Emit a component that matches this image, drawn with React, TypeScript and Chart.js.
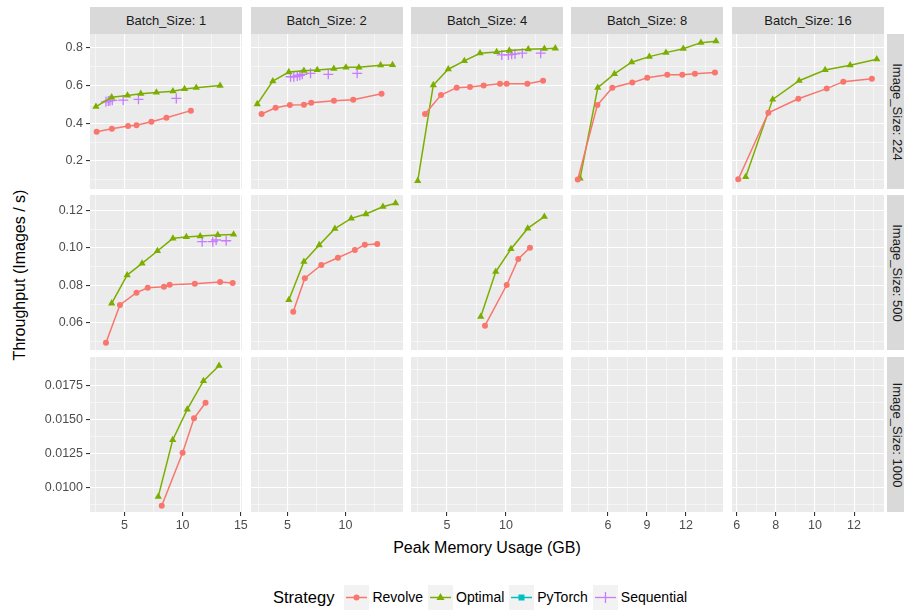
import { useEffect, useRef } from "react";
import { Chart, registerables } from "chart.js";

Chart.register(...registerables);
Chart.defaults.font.family = "'Liberation Sans', Arial, sans-serif";

const batchSizes = ["1", "2", "4", "8", "16"];
const imageSizes = ["224", "500", "1000"];
const strategies = ["Revolve", "Optimal", "PyTorch", "Sequential"];

// [memory GB, throughput] per batch size column
const revolve224 = [
  [[2.62, 0.355], [3.93, 0.371], [5.32, 0.385], [6.04, 0.39], [7.32, 0.408], [8.61, 0.429], [10.71, 0.467]],
  [[2.76, 0.449], [3.97, 0.482], [5.2, 0.497], [6.41, 0.498], [7.04, 0.509], [9.0, 0.52], [10.66, 0.525], [13.1, 0.557]],
  [[3.14, 0.449], [4.49, 0.55], [5.82, 0.589], [6.95, 0.593], [8.11, 0.6], [9.49, 0.61], [10.06, 0.61], [11.81, 0.61], [13.14, 0.626]],
  [[3.67, 0.102], [5.18, 0.497], [6.33, 0.589], [7.87, 0.616], [9.02, 0.642], [10.56, 0.658], [11.72, 0.658], [12.69, 0.663], [14.23, 0.669]],
  [[6.08, 0.103], [7.62, 0.456], [9.15, 0.53], [10.6, 0.584], [11.45, 0.621], [12.91, 0.637]],
];
const optimal224 = [
  [[2.56, 0.488], [3.91, 0.538], [5.27, 0.548], [6.41, 0.557], [7.75, 0.564], [9.17, 0.57], [10.17, 0.582], [11.17, 0.589], [13.22, 0.6]],
  [[2.39, 0.502], [3.73, 0.624], [5.11, 0.672], [6.41, 0.679], [7.56, 0.683], [8.99, 0.69], [10.03, 0.697], [11.15, 0.697], [13.02, 0.708], [14.05, 0.71]],
  [[2.52, 0.094], [3.84, 0.603], [5.11, 0.687], [6.47, 0.731], [7.8, 0.772], [9.21, 0.779], [10.28, 0.786], [11.89, 0.793], [13.25, 0.796], [14.18, 0.798]],
  [[3.85, 0.107], [5.21, 0.589], [6.49, 0.662], [7.82, 0.724], [9.18, 0.754], [10.46, 0.775], [11.79, 0.796], [13.15, 0.828], [14.31, 0.836]],
  [[6.46, 0.115], [7.84, 0.527], [9.19, 0.626], [10.52, 0.683], [11.8, 0.708], [13.16, 0.74]],
];
const sequential224 = [
  [[3.42, 0.514], [3.62, 0.518], [3.76, 0.52], [3.96, 0.522], [4.9, 0.523], [6.21, 0.527], [9.46, 0.532]],
  [[5.26, 0.647], [5.54, 0.647], [5.84, 0.651], [6.06, 0.655], [6.27, 0.66], [6.98, 0.665], [8.51, 0.66], [11.0, 0.665]],
  [[9.64, 0.763], [10.2, 0.763], [10.48, 0.766], [10.76, 0.768], [11.38, 0.772], [12.94, 0.772]],
  [],
  [],
];
const revolve500 = [
  [[3.42, 0.0493], [4.62, 0.0695], [6.04, 0.0761], [7.01, 0.0787], [8.4, 0.0793], [8.89, 0.0803], [11.05, 0.0809], [13.22, 0.0818], [14.3, 0.0813]],
  [[5.49, 0.0659], [6.49, 0.0838], [7.91, 0.0909], [9.34, 0.0948], [10.8, 0.0989], [11.66, 0.1018], [12.73, 0.1022]],
  [[8.22, 0.0584], [10.06, 0.0802], [11.04, 0.0941], [12.03, 0.1002]],
  [],
  [],
];
const optimal500 = [
  [[3.91, 0.0704], [5.24, 0.0855], [6.52, 0.0918], [7.84, 0.0984], [9.17, 0.1052], [10.32, 0.1059], [11.51, 0.1064], [13.02, 0.107], [14.38, 0.1073]],
  [[5.11, 0.0722], [6.41, 0.0927], [7.73, 0.1016], [9.08, 0.1104], [10.49, 0.1159], [11.75, 0.1182], [13.22, 0.1221], [14.31, 0.124]],
  [[7.86, 0.0632], [9.13, 0.0873], [10.42, 0.0995], [11.84, 0.1105], [13.25, 0.1168]],
  [],
  [],
];
const sequential500 = [
  [[11.68, 0.1034], [12.59, 0.1034], [12.88, 0.1043], [13.74, 0.1039]],
  [], [], [], [],
];
const revolve1000 = [
  [[8.21, 0.00867], [10.0, 0.01258], [10.98, 0.01512], [11.97, 0.01627]],
  [], [], [], [],
];
const optimal1000 = [
  [[7.91, 0.00934], [9.15, 0.01352], [10.4, 0.01578], [11.79, 0.01787], [13.13, 0.019]],
  [], [], [], [],
];
const pytorchAll: number[][][] = [[], [], [], [], []];

const rowSeries = [
  [revolve224, optimal224, pytorchAll, sequential224],
  [revolve500, optimal500, pytorchAll, sequential500],
  [revolve1000, optimal1000, pytorchAll, [[], [], [], [], []]],
];

const xRanges = [[2.05, 15.1], [1.85, 14.95], [1.95, 14.83], [3.15, 14.85], [5.76, 13.53]];
const xMajor = [5, 5, 5, 3, 2];
const yRanges = [[0.051, 0.874], [0.0454, 0.1284], [0.00821, 0.01964]];
const yMajor = [0.2, 0.02, 0.0025];
const yDecimals = [1, 2, 4];

const colors = ["#F8766D", "#7CAE00", "#00BFC4", "#C77CFF"];
const pointStyles = ["circle", "triangle", "rect", "cross"];
const pointRadius = [3, 4.2, 3, 5];

const colLeft = [90, 250.5, 411, 571, 732];
const rowTop = [34, 195, 357];
const PW = 152;
const PH = 155;
const AXW = 60;
const AXH = 22;
const PADR = 7;

const isMajor = (v: number, step: number) =>
  Math.abs(v / step - Math.round(v / step)) < 1e-6;

const panelBg = {
  id: "panelBg",
  beforeDraw(chart: Chart) {
    const { ctx, chartArea } = chart;
    ctx.save();
    ctx.fillStyle = "#EBEBEB";
    ctx.fillRect(chartArea.left, chartArea.top, chartArea.right - chartArea.left, chartArea.bottom - chartArea.top);
    ctx.restore();
  },
};

function Panel({ row, col }: { row: number; col: number }) {
  const ref = useRef<HTMLCanvasElement>(null);
  const showY = col === 0;
  const showX = row === 2;
  const padR = showX ? PADR : 0;
  const w = PW + (showY ? AXW : 0) + padR;
  const h = PH + (showX ? AXH : 0);

  useEffect(() => {
    if (!ref.current) return;
    const series = rowSeries[row];
    const xm = xMajor[col];
    const ym = yMajor[row];
    const chart = new Chart(ref.current, {
      type: "scatter",
      data: {
        datasets: series.map((s, i) => ({
          label: strategies[i],
          data: s[col].map(([x, y]) => ({ x, y })),
          showLine: i !== 3,
          borderColor: colors[i],
          backgroundColor: colors[i],
          borderWidth: i === 3 ? 1.3 : 1.5,
          pointStyle: pointStyles[i],
          pointRadius: pointRadius[i],
          pointBorderWidth: i === 3 ? 1.3 : 0,
          pointBorderColor: colors[i],
        })),
      },
      options: {
        animation: false,
        responsive: false,
        layout: { padding: { left: 0, top: 0, bottom: 0, right: padR }, autoPadding: false },
        plugins: { legend: { display: false }, tooltip: { enabled: false } },
        scales: {
          x: {
            type: "linear",
            min: xRanges[col][0],
            max: xRanges[col][1],
            border: { display: false },
            afterFit: (s: any) => { s.height = showX ? AXH : 0; s.paddingLeft = 0; s.paddingRight = 0; },
            grid: {
              color: "#FFFFFF",
              lineWidth: (c: any) => (isMajor(c.tick.value, xm) ? 1.1 : 0.5),
              drawTicks: showX,
              tickLength: 4,
              tickColor: (c: any) => (isMajor(c.tick.value, xm) ? "#333333" : "rgba(0,0,0,0)"),
            },
            ticks: {
              display: showX,
              stepSize: xm / 2,
              includeBounds: false,
              autoSkip: false,
              maxRotation: 0,
              padding: 2,
              color: "#4D4D4D",
              font: { size: 12.5 },
              callback: (v: any) => (isMajor(Number(v), xm) ? String(Math.round(Number(v))) : ""),
            },
          },
          y: {
            type: "linear",
            min: yRanges[row][0],
            max: yRanges[row][1],
            border: { display: false },
            afterFit: (s: any) => { s.width = showY ? AXW : 0; s.paddingTop = 0; s.paddingBottom = 0; },
            grid: {
              color: "#FFFFFF",
              lineWidth: (c: any) => (isMajor(c.tick.value, ym) ? 1.1 : 0.5),
              drawTicks: showY,
              tickLength: 4,
              tickColor: (c: any) => (isMajor(c.tick.value, ym) ? "#333333" : "rgba(0,0,0,0)"),
            },
            ticks: {
              display: showY,
              stepSize: ym / 2,
              includeBounds: false,
              autoSkip: false,
              padding: 3,
              color: "#4D4D4D",
              font: { size: 12.5 },
              callback: (v: any) => (isMajor(Number(v), ym) ? Number(v).toFixed(yDecimals[row]) : ""),
            },
          },
        },
      },
      plugins: [panelBg],
    } as any);
    return () => chart.destroy();
  }, [row, col, showX, showY, padR]);

  return (
    <canvas
      ref={ref}
      width={w}
      height={h}
      style={{
        position: "absolute",
        left: colLeft[col] - (showY ? AXW : 0),
        top: rowTop[row],
        width: w,
        height: h,
      }}
    />
  );
}

function LegendKey({ i }: { i: number }) {
  const c = colors[i];
  return (
    <svg width={25} height={25} style={{ display: "block" }}>
      <rect x={0} y={0} width={25} height={25} fill="#F2F2F2" />
      {i !== 3 && <line x1={2} y1={12.5} x2={23} y2={12.5} stroke={c} strokeWidth={1.5} />}
      {i === 0 && <circle cx={12.5} cy={12.5} r={3} fill={c} />}
      {i === 1 && <polygon points="12.5,8 16.5,15 8.5,15" fill={c} />}
      {i === 2 && <rect x={9.5} y={9.5} width={6} height={6} fill={c} />}
      {i === 3 && (
        <g stroke={c} strokeWidth={1.3}>
          <line x1={2} y1={12.5} x2={23} y2={12.5} />
          <line x1={12.5} y1={7} x2={12.5} y2={18} />
        </g>
      )}
    </svg>
  );
}

export default function App() {
  const font = "'Liberation Sans', Arial, sans-serif";
  return (
    <div style={{ position: "absolute", left: 0, top: 0, width: 904, height: 611, background: "#fff", fontFamily: font, overflow: "hidden" }}>
      {batchSizes.map((b, c) => (
        <div
          key={b}
          style={{
            position: "absolute", left: colLeft[c], top: 7, width: PW, height: 27,
            background: "#D9D9D9", color: "#1A1A1A", fontSize: 13,
            display: "flex", alignItems: "center", justifyContent: "center",
          }}
        >
          Batch_Size: {b}
        </div>
      ))}
      {imageSizes.map((s, r) => (
        <div
          key={s}
          style={{
            position: "absolute", left: 887, top: rowTop[r], width: 27, height: PH,
            background: "#D9D9D9",
          }}
        >
          <div
            style={{
              position: "absolute", left: 10, top: PH / 2, transform: "translate(-50%, -50%) rotate(90deg)",
              whiteSpace: "nowrap", fontSize: 13, color: "#1A1A1A",
            }}
          >
            Image_Size: {s}
          </div>
        </div>
      ))}
      {rowTop.map((_, r) => colLeft.map((__, c) => <Panel key={`${r}-${c}`} row={r} col={c} />))}
      <div
        style={{
          position: "absolute", left: 20, top: 275, transform: "translate(-50%, -50%) rotate(-90deg)",
          whiteSpace: "nowrap", fontSize: 16, color: "#000",
        }}
      >
        Throughput (Images / s)
      </div>
      <div
        style={{
          position: "absolute", left: 487, top: 548, transform: "translate(-50%, -50%)",
          whiteSpace: "nowrap", fontSize: 16, color: "#000",
        }}
      >
        Peak Memory Usage (GB)
      </div>
      <div
        style={{
          position: "absolute", left: 273, top: 584, height: 26,
          display: "flex", alignItems: "center", fontSize: 14, color: "#000", whiteSpace: "nowrap",
        }}
      >
        <span style={{ fontSize: 16.5, marginRight: 10 }}>Strategy</span>
        {strategies.map((s, i) => (
          <span key={s} style={{ display: "flex", alignItems: "center", marginRight: 5 }}>
            <LegendKey i={i} />
            <span style={{ marginLeft: 3 }}>{s}</span>
          </span>
        ))}
      </div>
    </div>
  );
}
